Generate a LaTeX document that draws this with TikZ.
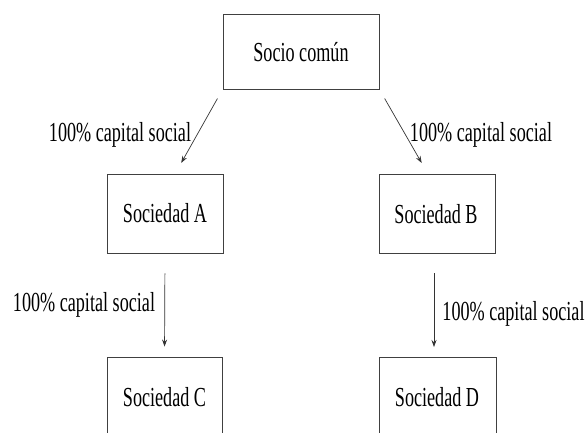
\documentclass[tikz,border=0pt]{standalone}
\usepackage{fontspec}
\setmainfont[FakeStretch=0.66]{Liberation Serif}
\usetikzlibrary{arrows.meta}
\begin{document}
\begin{tikzpicture}[x=1pt,y=-1pt,
  boxnode/.style={draw=black!75, line width=0.9pt, fill=white, inner sep=0pt},
  lbl/.style={inner sep=0pt, text=black, font=\fontsize{27.5}{30}\selectfont},
  conn/.style={draw=black!80, line width=0.7pt, -{Stealth[length=7pt,width=5pt]}}]
\useasboundingbox (0,0) rectangle (586,432);
\clip (0,0) rectangle (586,432);
\node[boxnode, minimum width=156pt, minimum height=75pt] (top) at (301,51.5) {};
\node[lbl] (toptxt) at (301,52) {Socio común};
\node[boxnode, minimum width=116pt, minimum height=79pt] (A) at (165,213.5) {};
\node[lbl] (Atxt) at (165,213) {Sociedad A};
\node[boxnode, minimum width=116pt, minimum height=79pt] (B) at (437,214) {};
\node[lbl] (Btxt) at (436,214) {Sociedad B};
\node[boxnode, minimum width=115pt, minimum height=80pt] (C) at (164.5,397) {};
\node[lbl] (Ctxt) at (164.5,397) {Sociedad C};
\node[boxnode, minimum width=117pt, minimum height=80pt] (D) at (437.5,397) {};
\node[lbl] (Dtxt) at (437,397) {Sociedad D};
\coordinate (aend) at (175,174);
\coordinate (bend) at (428,174);
\draw[conn, shorten <=10.4pt, shorten >=12.7pt] (top.south west) -- (aend);
\draw[conn, shorten <=10.4pt, shorten >=12.7pt] (top.south east) -- (bend);
\coordinate (bs) at (434,253);
\coordinate (dn) at (434,357);
\draw[conn, shorten <=20pt, shorten >=10pt] (A.south) -- (C.north);
\draw[conn, shorten <=20pt, shorten >=10pt] (bs) -- (dn);
\node[lbl] (l1) at (120,135) {100\% capital social};
\node[lbl] (l2) at (481,135) {100\% capital social};
\node[lbl] (l3) at (84,305) {100\% capital social};
\node[lbl] (l4) at (513.5,314) {100\% capital social};
\end{tikzpicture}
\end{document}
